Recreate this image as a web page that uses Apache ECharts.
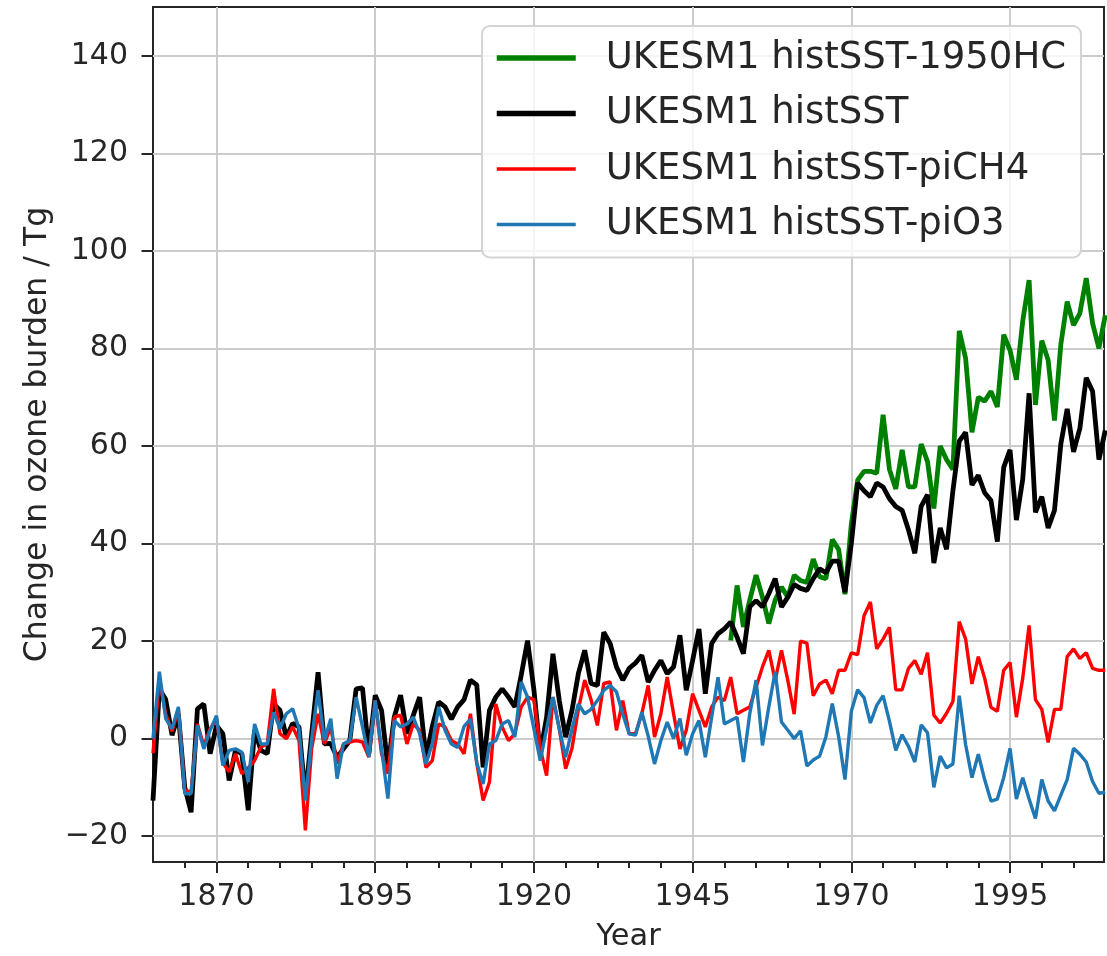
<!DOCTYPE html>
<html>
<head>
<meta charset="utf-8">
<script src="https://cdn.jsdelivr.net/npm/echarts@6/dist/echarts.min.js"></script>
<style>
html,body{margin:0;padding:0;background:#fff;}
#chart{width:1107px;height:956px;}
</style>
</head>
<body>
<div id="chart"></div>
<script>
// ---- data ----
const startYear = 1860;          // first year of histSST, piCH4, piO3
const greenStart = 1951;         // first year of histSST-1950HC

const histSST = [
  -12.7, 10.2, 8, 0.7, 5, -10, -15.1, 6.1, 7.1, -3.1,
  2.7, 1, -8.6, -2.4, -3.1, -14.7, 1.7, -2.4, -3.1, 7.1,
  5.8, 0.3, 3.1, 2.4, -12, 1, 13.6, -1.1, -1, -3.8,
  -2.1, -0.4, 10.2, 10.4, -3.1, 8.9, 5.8, -5.9, 4.4, 8.9,
  1, 4.8, 8.5, -3.8, 2.5, 7.5, 6.5, 4, 6.5, 8,
  12, 11, -5.9, 5.8, 8.5, 10.2, 8.5, 6.5, 13, 20.1,
  10, -3.1, 4.4, 17.4, 7.8, 0.3, 5.8, 13.3, 18.1, 11.3,
  10.9, 21.8, 19.5, 14.7, 12, 14.4, 15.5, 17.1, 11.6, 14,
  16, 13.3, 14.7, 21.2, 9.9, 16, 22.5, 9.2, 19.5, 21.5,
  22.5, 23.9, 20.8, 17.4, 27, 28.3, 27, 29.7, 32.8, 27,
  29, 31.6, 30.8, 30.4, 32.8, 34.8, 34, 36.4, 36.4, 30,
  40, 52.4, 50.8, 49.6, 52.4, 51.6, 49.2, 47.6, 46.8, 42.8,
  38, 47.6, 50, 36, 43.2, 38.8, 50.8, 61, 62.8, 52,
  54, 50.4, 48.8, 40.4, 55.6, 59.2, 44.8, 53.2, 70.8, 46.4,
  49.6, 43.2, 46.8, 60.4, 67.6, 58.8, 63.6, 74, 71.2, 57.2,
  63.2
];

const histSST_piCH4 = [
  -3, 12, 5, 1.5, 6, -10.5, -11, 3, -1.5, 2,
  4, -5, -6.8, -3.1, -7.2, -6, -4.5, -1.7, -1.1, 10.2,
  1, 0, 2.4, -0.4, -18.8, -2, 5.1, -1.1, 2.4, -5.2,
  -1.1, -0.7, -0.4, -0.7, -3.8, 7.8, -3.1, -7.2, 4.4, 4.8,
  -1.1, 3, 1.7, -5.9, -4.5, 3, 2.4, -0.4, -1.1, -3.1,
  5.1, -5, -12.7, -8.9, 7.1, 2.4, -0.4, 1, 6.5, 8.5,
  8, -2, -7.6, 8.5, 2, -6.2, -2, 6, 12, 8,
  2.7, 11.3, 11.6, 1.7, 7.8, 1, 1, 5.1, 10.9, 0.3,
  5.1, 12.6, 5.1, -2.1, 1.7, 9.2, 5.8, 2.4, 6.5, 8.5,
  7.8, 12.6, 5.1, 5.8, 6.5, 10.6, 14.7, 18.1, 11.9, 18.1,
  11.9, 5, 20, 19.6, 8.8, 11.2, 12, 9.2, 14, 14,
  17.6, 17.2, 25.2, 28, 18.4, 20.4, 22.8, 10, 10, 14.4,
  16, 13.2, 17.6, 4.8, 3.2, 5.2, 7.6, 24, 20.4, 11.2,
  16.8, 12.4, 6.4, 5.6, 14, 15.6, 4.4, 12.4, 23.2, 8,
  6, -0.8, 6, 6, 16.8, 18.4, 16.4, 17.6, 14.4, 14,
  14
];

const histSST_piO3 = [
  0, 13.7, 4.1, 2, 6.5, -11.3, -11.3, 2.7, -2.1, 1.7,
  4.7, -5.5, -2.4, -2.1, -2.8, -8.9, 3, -1.1, -1.1, 5.4,
  2, 5.1, 6.1, 2, -12.7, 0, 9.9, -0.4, 4.1, -8.2,
  -1.1, -0.4, 8.5, 2.4, -3.8, 7.8, -2.1, -12.3, 3.7, 2.4,
  3, 4.4, 1, -5.2, -1, 6.5, 1.7, -1.1, -1.8, 2.5,
  4, -5, -9.3, -1.1, -0.4, 3, 3.7, 0.3, 11.6, 8.5,
  2, -4.5, 2, 8.5, 2, -3.8, 2, 7.1, 5.1, 6,
  7.8, 9.9, 10.9, 9.6, 5, 1, 0.7, 5.4, 0.5, -5.2,
  -0.4, 3.4, 0, 4.1, -3.4, 1, 3.7, -3.8, 4.4, 12.6,
  3, 3.7, 4.4, -4.8, 5.1, 12, -1.4, 6.5, 13.7, 3.4,
  1.7, 0, 1.6, -5.6, -4.4, -3.6, 0.4, 7.2, 0.4, -8.4,
  5.6, 10, 8.4, 3.2, 6.8, 8.8, 3.6, -2.4, 0.8, -1.6,
  -4.8, 2.8, 1.2, -10, -3.6, -6, -5.2, 8.8, -1.2, -8,
  -3.2, -8.4, -12.8, -12.4, -8, -2, -12.4, -8, -12.4, -16.4,
  -8.4, -12.8, -14.8, -11.6, -8.4, -2, -3.2, -4.8, -8.8, -11.2,
  -11
];

const histSST_1950HC = [
  20.1, 31.4, 22.9, 28.4, 33.5, 29, 23.6, 28.4, 31.1,
  29, 33.5, 32.4, 32, 36.8, 33.2, 32.8, 40.8, 38.8, 29.6,
  44, 53, 54.8, 54.8, 54.4, 66.4, 55.2, 51.2, 59.2, 51.6,
  51.6, 60.4, 56.8, 47.2, 60, 57.2, 55.2, 83.6, 78, 62.8,
  70, 69.2, 71.2, 68, 82.8, 79.6, 73.6, 85.6, 94, 68.4,
  81.6, 77.6, 65.2, 80.8, 89.6, 84.8, 87.2, 94.4, 85.2, 80,
  86.8
];

const xMajorTicks = [1870, 1895, 1920, 1945, 1970, 1995];
const xMinorTicks = [1865, 1875, 1880, 1885, 1890, 1900, 1905, 1910, 1915, 1925, 1930, 1935, 1940,
                     1950, 1955, 1960, 1965, 1975, 1980, 1985, 1990, 2000, 2005];
const yTicks = [-20, 0, 20, 40, 60, 80, 100, 120, 140];

const names = ['UKESM1 histSST-1950HC', 'UKESM1 histSST', 'UKESM1 histSST-piCH4', 'UKESM1 histSST-piO3'];

// ---- build ----
function pairs(arr, y0) { return arr.map((v, i) => [y0 + i, v]); }

const FONT = 'DejaVu Sans';
const TXT = '#262626';
const chart = echarts.init(document.getElementById('chart'), null, {renderer: 'canvas'});

const xBase = {
  type: 'value', min: 1860, max: 2009.8, gridIndex: 0, position: 'bottom',
};

chart.setOption({
  animation: false,
  backgroundColor: '#ffffff',
  grid: {
    left: 153, top: 7, right: 3, bottom: 94,
    containLabel: false, outerBoundsMode: 'none',
    show: true, borderColor: '#262626', borderWidth: 2, backgroundColor: 'transparent'
  },
  xAxis: [
    Object.assign({}, xBase, {
      name: 'Year', nameLocation: 'middle', nameGap: 60,
      nameTextStyle: {fontFamily: FONT, fontSize: 30.5, color: TXT},
      axisLine: {show: false, onZero: false},
      axisTick: {show: true, length: 11, customValues: xMajorTicks, lineStyle: {color: TXT, width: 2}},
      axisLabel: {show: true, customValues: xMajorTicks, margin: 20, fontFamily: FONT, fontSize: 30, color: TXT,
        formatter: v => String(v)},
      splitLine: {show: true, lineStyle: {color: '#cccccc', width: 2}}
    }),
    Object.assign({}, xBase, {
      axisLine: {show: false, onZero: false},
      axisTick: {show: true, length: 6, customValues: xMinorTicks, lineStyle: {color: TXT, width: 2}},
      axisLabel: {show: false},
      splitLine: {show: false}
    })
  ],
  yAxis: {
    type: 'value', min: -25.3, max: 150,
    name: 'Change in ozone burden / Tg', nameLocation: 'middle', nameGap: 98, nameRotate: 90,
    nameTextStyle: {fontFamily: FONT, fontSize: 31.5, color: TXT},
    axisLine: {show: false, onZero: false},
    axisTick: {show: true, length: 11.5, customValues: yTicks, lineStyle: {color: TXT, width: 2}},
    axisLabel: {show: true, customValues: yTicks, margin: 25, fontFamily: FONT, fontSize: 30, color: TXT,
      formatter: v => (v < 0 ? '\u2212' + Math.abs(v) : String(v))},
    splitLine: {show: true, lineStyle: {color: '#cccccc', width: 2}}
  },
  legend: {
    orient: 'vertical', left: 482, top: 26,
    padding: [12, 15, 13, 12],
    itemWidth: 79, itemHeight: 2, itemGap: 15.5,
    backgroundColor: 'rgba(255,255,255,0.8)', borderColor: '#d4d4d4', borderWidth: 2, borderRadius: 8,
    textStyle: {fontFamily: FONT, fontSize: 37, color: TXT, lineHeight: 40, padding: [0, 0, 0, 25]},
    data: [
      {name: names[0], lineStyle: {width: 5.5}, itemStyle: {opacity: 0}},
      {name: names[1], lineStyle: {width: 5.5}, itemStyle: {opacity: 0}},
      {name: names[2], lineStyle: {width: 3.6}, itemStyle: {opacity: 0}},
      {name: names[3], lineStyle: {width: 3.6}, itemStyle: {opacity: 0}}
    ]
  },
  series: [
    {name: names[0], type: 'line', data: pairs(histSST_1950HC, greenStart), symbol: 'none',
     color: '#008000', lineStyle: {width: 4.8, color: '#008000'}, clip: true},
    {name: names[1], type: 'line', data: pairs(histSST, startYear), symbol: 'none',
     color: '#000000', lineStyle: {width: 4.8, color: '#000000'}, clip: true},
    {name: names[2], type: 'line', data: pairs(histSST_piCH4, startYear), symbol: 'none',
     color: '#ff0000', lineStyle: {width: 3.4, color: '#ff0000'}, clip: true},
    {name: names[3], type: 'line', data: pairs(histSST_piO3, startYear), symbol: 'none',
     color: '#1f77b4', lineStyle: {width: 3.4, color: '#1f77b4'}, clip: true}
  ]
});
</script>
</body>
</html>
